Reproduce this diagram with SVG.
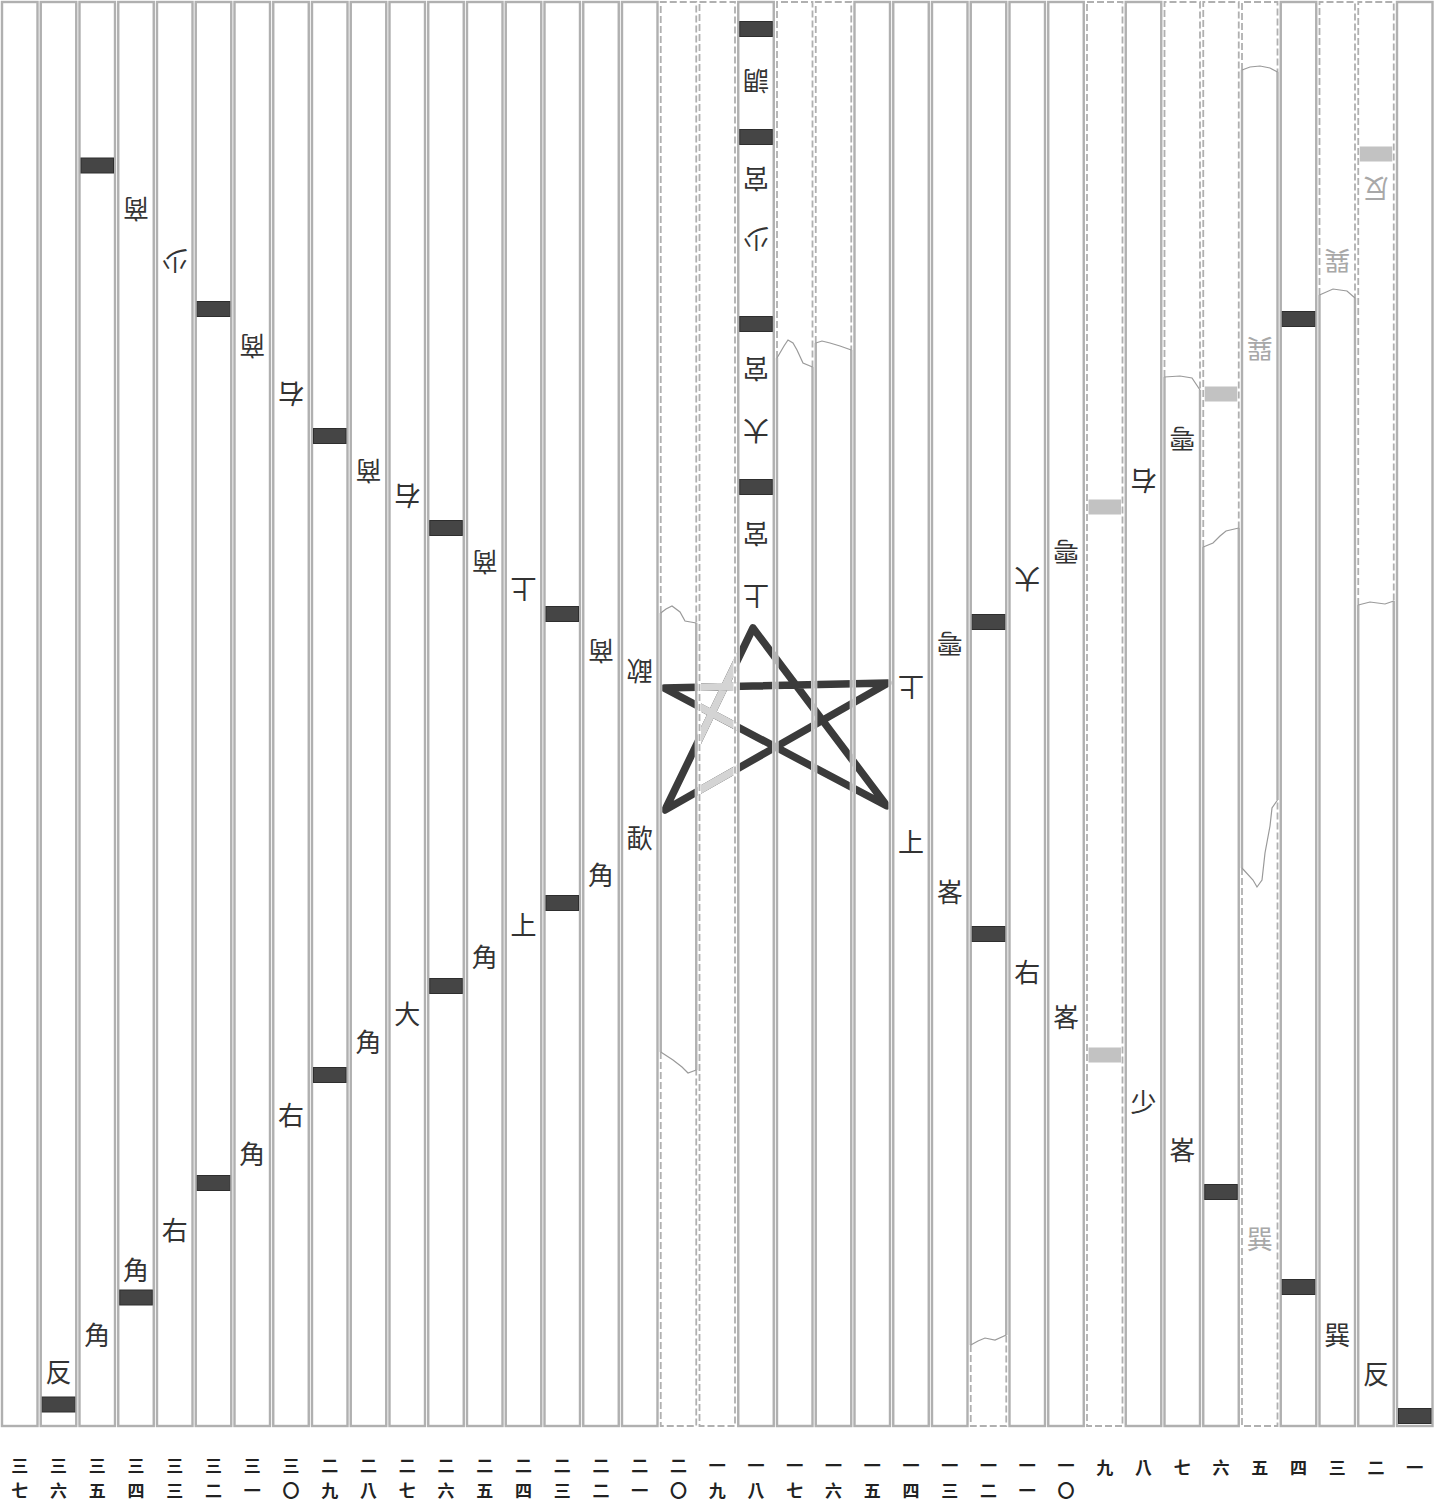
<svg xmlns="http://www.w3.org/2000/svg" width="1435" height="1500" viewBox="0 0 1435 1500">
<defs>
<style>
.u{fill:none;stroke:#fff;stroke-width:3}
.s{fill:none;stroke:#b0b0b0;stroke-width:2.4}
.d{fill:none;stroke:#b0b0b0;stroke-width:1.8;stroke-dasharray:7 3}
.k{fill:none;stroke:#9a9a9a;stroke-width:1.2}
.b{fill:#454545;stroke:#2e2e2e;stroke-width:1}
.gb{fill:#c2c2c2}
.t{font-family:"Noto Sans CJK TC","Noto Sans CJK SC",sans-serif;font-size:26px;fill:#333;text-anchor:middle;dominant-baseline:central}
.g{fill:#a8a8a8}
.l{font-family:"Noto Sans CJK TC","Noto Sans CJK SC",sans-serif;font-size:17px;font-weight:bold;fill:#222;text-anchor:middle;dominant-baseline:central}
.st{fill:none;stroke:#3b3b3b;stroke-width:7.5;stroke-linejoin:round;stroke-linecap:round}
.sg{fill:none;stroke:#d4d4d4;stroke-width:7.5;stroke-linejoin:round}
</style>
<clipPath id="c18"><rect x="699" y="500" width="38" height="400"/></clipPath>
</defs>
<rect width="1435" height="1500" fill="#fff"/>
<g id="connectors">
<path class="st" d="M664,688 L888,683 L665,810 L753,628 L887,806 Z"/>
<path class="sg" clip-path="url(#c18)" d="M664,688 L888,683 L665,810 L753,628 L887,806 Z"/>
</g>
<g id="s37"><rect class="u" x="2" y="2" width="35.5" height="1424"/><rect class="s" x="2" y="2" width="35.5" height="1424"/><text class="l" x="19.75" y="1464">三</text><text class="l" x="19.75" y="1489">七</text></g>
<g id="s36"><rect class="u" x="40.75" y="2" width="35.5" height="1424"/><rect class="s" x="40.75" y="2" width="35.5" height="1424"/><text class="t" x="58.5" y="1370">反</text><rect class="b" x="42.25" y="1397" width="32.5" height="15"/><text class="l" x="58.5" y="1464">三</text><text class="l" x="58.5" y="1489">六</text></g>
<g id="s35"><rect class="u" x="79.5" y="2" width="35.5" height="1424"/><rect class="s" x="79.5" y="2" width="35.5" height="1424"/><rect class="b" x="81" y="158" width="32.5" height="15"/><text class="t" x="97.25" y="1333">角</text><text class="l" x="97.25" y="1464">三</text><text class="l" x="97.25" y="1489">五</text></g>
<g id="s34"><rect class="u" x="118.25" y="2" width="35.5" height="1424"/><rect class="s" x="118.25" y="2" width="35.5" height="1424"/><text class="t" x="136" y="210" transform="rotate(180 136 210)">商</text><text class="t" x="136" y="1268">角</text><rect class="b" x="119.75" y="1290" width="32.5" height="15"/><text class="l" x="136" y="1464">三</text><text class="l" x="136" y="1489">四</text></g>
<g id="s33"><rect class="u" x="157" y="2" width="35.5" height="1424"/><rect class="s" x="157" y="2" width="35.5" height="1424"/><text class="t" x="174.75" y="262" transform="rotate(180 174.75 262)">少</text><text class="t" x="174.75" y="1228">右</text><text class="l" x="174.75" y="1464">三</text><text class="l" x="174.75" y="1489">三</text></g>
<g id="s32"><rect class="u" x="195.75" y="2" width="35.5" height="1424"/><rect class="s" x="195.75" y="2" width="35.5" height="1424"/><rect class="b" x="197.25" y="301.5" width="32.5" height="15"/><rect class="b" x="197.25" y="1175.5" width="32.5" height="15"/><text class="l" x="213.5" y="1464">三</text><text class="l" x="213.5" y="1489">二</text></g>
<g id="s31"><rect class="u" x="234.5" y="2" width="35.5" height="1424"/><rect class="s" x="234.5" y="2" width="35.5" height="1424"/><text class="t" x="252.25" y="347" transform="rotate(180 252.25 347)">商</text><text class="t" x="252.25" y="1152">角</text><text class="l" x="252.25" y="1464">三</text><text class="l" x="252.25" y="1489">一</text></g>
<g id="s30"><rect class="u" x="273.25" y="2" width="35.5" height="1424"/><rect class="s" x="273.25" y="2" width="35.5" height="1424"/><text class="t" x="291" y="395" transform="rotate(180 291 395)">右</text><text class="t" x="291" y="1113">右</text><text class="l" x="291" y="1464">三</text><text class="l" x="291" y="1489">〇</text></g>
<g id="s29"><rect class="u" x="312" y="2" width="35.5" height="1424"/><rect class="s" x="312" y="2" width="35.5" height="1424"/><rect class="b" x="313.5" y="428.5" width="32.5" height="15"/><rect class="b" x="313.5" y="1067.5" width="32.5" height="15"/><text class="l" x="329.75" y="1464">二</text><text class="l" x="329.75" y="1489">九</text></g>
<g id="s28"><rect class="u" x="350.75" y="2" width="35.5" height="1424"/><rect class="s" x="350.75" y="2" width="35.5" height="1424"/><text class="t" x="368.5" y="472" transform="rotate(180 368.5 472)">商</text><text class="t" x="368.5" y="1040">角</text><text class="l" x="368.5" y="1464">二</text><text class="l" x="368.5" y="1489">八</text></g>
<g id="s27"><rect class="u" x="389.5" y="2" width="35.5" height="1424"/><rect class="s" x="389.5" y="2" width="35.5" height="1424"/><text class="t" x="407.25" y="497" transform="rotate(180 407.25 497)">右</text><text class="t" x="407.25" y="1012">大</text><text class="l" x="407.25" y="1464">二</text><text class="l" x="407.25" y="1489">七</text></g>
<g id="s26"><rect class="u" x="428.25" y="2" width="35.5" height="1424"/><rect class="s" x="428.25" y="2" width="35.5" height="1424"/><rect class="b" x="429.75" y="520.5" width="32.5" height="15"/><rect class="b" x="429.75" y="978.5" width="32.5" height="15"/><text class="l" x="446" y="1464">二</text><text class="l" x="446" y="1489">六</text></g>
<g id="s25"><rect class="u" x="467" y="2" width="35.5" height="1424"/><rect class="s" x="467" y="2" width="35.5" height="1424"/><text class="t" x="484.75" y="563" transform="rotate(180 484.75 563)">商</text><text class="t" x="484.75" y="955">角</text><text class="l" x="484.75" y="1464">二</text><text class="l" x="484.75" y="1489">五</text></g>
<g id="s24"><rect class="u" x="505.75" y="2" width="35.5" height="1424"/><rect class="s" x="505.75" y="2" width="35.5" height="1424"/><text class="t" x="523.5" y="590" transform="rotate(180 523.5 590)">上</text><text class="t" x="523.5" y="923">上</text><text class="l" x="523.5" y="1464">二</text><text class="l" x="523.5" y="1489">四</text></g>
<g id="s23"><rect class="u" x="544.5" y="2" width="35.5" height="1424"/><rect class="s" x="544.5" y="2" width="35.5" height="1424"/><rect class="b" x="546" y="606.5" width="32.5" height="15"/><rect class="b" x="546" y="895.5" width="32.5" height="15"/><text class="l" x="562.25" y="1464">二</text><text class="l" x="562.25" y="1489">三</text></g>
<g id="s22"><rect class="u" x="583.25" y="2" width="35.5" height="1424"/><rect class="s" x="583.25" y="2" width="35.5" height="1424"/><text class="t" x="601" y="652" transform="rotate(180 601 652)">商</text><text class="t" x="601" y="873">角</text><text class="l" x="601" y="1464">二</text><text class="l" x="601" y="1489">二</text></g>
<g id="s21"><rect class="u" x="622" y="2" width="35.5" height="1424"/><rect class="s" x="622" y="2" width="35.5" height="1424"/><text class="t" x="639.75" y="672" transform="rotate(180 639.75 672)">歃</text><text class="t" x="639.75" y="836">歃</text><text class="l" x="639.75" y="1464">二</text><text class="l" x="639.75" y="1489">一</text></g>
<g id="s20"><path class="u" d="M660.75,2V1426H696.25V2Z"/><path class="d" d="M660.75,613V2H696.25V623M660.75,1052V1426H696.25V1070"/><path class="s" d="M660.75,613V1052M696.25,623V1070"/><path class="k" d="M660.75,613L666,609L672,606L680,612L685,621L696.25,623M660.75,1052L673,1060L682,1067L688,1073L696.25,1070"/><text class="l" x="678.5" y="1464">二</text><text class="l" x="678.5" y="1489">〇</text></g>
<g id="s19"><rect class="u" x="699.5" y="2" width="35.5" height="1424"/><rect class="d" x="699.5" y="2" width="35.5" height="1424"/><text class="l" x="717.25" y="1464">一</text><text class="l" x="717.25" y="1489">九</text></g>
<g id="s18"><rect class="u" x="738.25" y="2" width="35.5" height="1424"/><rect class="s" x="738.25" y="2" width="35.5" height="1424"/><rect class="b" x="739.75" y="21.5" width="32.5" height="15"/><text class="t" x="756" y="82" transform="rotate(180 756 82)">調</text><rect class="b" x="739.75" y="129.5" width="32.5" height="15"/><text class="t" x="756" y="180" transform="rotate(180 756 180)">宮</text><text class="t" x="756" y="240" transform="rotate(180 756 240)">少</text><rect class="b" x="739.75" y="316.5" width="32.5" height="15"/><text class="t" x="756" y="370" transform="rotate(180 756 370)">宮</text><text class="t" x="756" y="432" transform="rotate(180 756 432)">大</text><rect class="b" x="739.75" y="479.5" width="32.5" height="15"/><text class="t" x="756" y="535" transform="rotate(180 756 535)">宮</text><text class="t" x="756" y="597" transform="rotate(180 756 597)">上</text><text class="l" x="756" y="1464">一</text><text class="l" x="756" y="1489">八</text></g>
<g id="s17"><path class="u" d="M777,2V1426H812.5V2Z"/><path class="d" d="M777,358V2H812.5V367"/><path class="s" d="M777,358V1426H812.5V367"/><path class="k" d="M777,358L784,346L788,340L793,343L797,350L803,363L812.5,367"/><text class="l" x="794.75" y="1464">一</text><text class="l" x="794.75" y="1489">七</text></g>
<g id="s16"><path class="u" d="M815.75,2V1426H851.25V2Z"/><path class="d" d="M815.75,343V2H851.25V350"/><path class="s" d="M815.75,343V1426H851.25V350"/><path class="k" d="M815.75,343L822,341L830,343L840,346L851.25,350"/><text class="l" x="833.5" y="1464">一</text><text class="l" x="833.5" y="1489">六</text></g>
<g id="s15"><rect class="u" x="854.5" y="2" width="35.5" height="1424"/><rect class="s" x="854.5" y="2" width="35.5" height="1424"/><text class="l" x="872.25" y="1464">一</text><text class="l" x="872.25" y="1489">五</text></g>
<g id="s14"><rect class="u" x="893.25" y="2" width="35.5" height="1424"/><rect class="s" x="893.25" y="2" width="35.5" height="1424"/><text class="t" x="911" y="688" transform="rotate(180 911 688)">上</text><text class="t" x="911" y="840">上</text><text class="l" x="911" y="1464">一</text><text class="l" x="911" y="1489">四</text></g>
<g id="s13"><rect class="u" x="932" y="2" width="35.5" height="1424"/><rect class="s" x="932" y="2" width="35.5" height="1424"/><text class="t" x="949.75" y="645" transform="rotate(180 949.75 645)">雩</text><text class="t" x="949.75" y="890">峉</text><text class="l" x="949.75" y="1464">一</text><text class="l" x="949.75" y="1489">三</text></g>
<g id="s12"><path class="u" d="M970.75,2V1426H1006.25V2Z"/><path class="s" d="M970.75,1345V2H1006.25V1335"/><path class="d" d="M970.75,1345V1426H1006.25V1335"/><path class="k" d="M970.75,1345L978,1341L985,1338L995,1340L1006.25,1335"/><rect class="b" x="972.25" y="614.5" width="32.5" height="15"/><rect class="b" x="972.25" y="926.5" width="32.5" height="15"/><text class="l" x="988.5" y="1464">一</text><text class="l" x="988.5" y="1489">二</text></g>
<g id="s11"><rect class="u" x="1009.5" y="2" width="35.5" height="1424"/><rect class="s" x="1009.5" y="2" width="35.5" height="1424"/><text class="t" x="1027.25" y="580" transform="rotate(180 1027.25 580)">大</text><text class="t" x="1027.25" y="970">右</text><text class="l" x="1027.25" y="1464">一</text><text class="l" x="1027.25" y="1489">一</text></g>
<g id="s10"><rect class="u" x="1048.25" y="2" width="35.5" height="1424"/><rect class="s" x="1048.25" y="2" width="35.5" height="1424"/><text class="t" x="1066" y="553" transform="rotate(180 1066 553)">雩</text><text class="t" x="1066" y="1015">峉</text><text class="l" x="1066" y="1464">一</text><text class="l" x="1066" y="1489">〇</text></g>
<g id="s9"><rect class="u" x="1087" y="2" width="35.5" height="1424"/><rect class="d" x="1087" y="2" width="35.5" height="1424"/><rect class="gb" x="1088.5" y="499.5" width="32.5" height="15"/><rect class="gb" x="1088.5" y="1047.5" width="32.5" height="15"/><text class="l" x="1104.75" y="1466">九</text></g>
<g id="s8"><rect class="u" x="1125.75" y="2" width="35.5" height="1424"/><rect class="s" x="1125.75" y="2" width="35.5" height="1424"/><text class="t" x="1143.5" y="482" transform="rotate(180 1143.5 482)">右</text><text class="t" x="1143.5" y="1100">少</text><text class="l" x="1143.5" y="1466">八</text></g>
<g id="s7"><path class="u" d="M1164.5,2V1426H1200V2Z"/><path class="d" d="M1164.5,377V2H1200V390"/><path class="s" d="M1164.5,377V1426H1200V390"/><path class="k" d="M1164.5,377L1180,376L1192,378L1200,390"/><text class="t" x="1182.25" y="440" transform="rotate(180 1182.25 440)">雩</text><text class="t" x="1182.25" y="1148">峉</text><text class="l" x="1182.25" y="1466">七</text></g>
<g id="s6"><path class="u" d="M1203.25,2V1426H1238.75V2Z"/><path class="d" d="M1203.25,547V2H1238.75V528"/><path class="s" d="M1203.25,547V1426H1238.75V528"/><path class="k" d="M1203.25,547L1213,543L1220,536L1226,531L1238.75,528"/><rect class="gb" x="1204.75" y="386.5" width="32.5" height="15"/><rect class="b" x="1204.75" y="1184.5" width="32.5" height="15"/><text class="l" x="1221" y="1466">六</text></g>
<g id="s5"><path class="u" d="M1242,2V1426H1277.5V2Z"/><path class="d" d="M1242,70V2H1277.5V72M1242,868V1426H1277.5V800"/><path class="s" d="M1242,70V868M1277.5,72V800"/><path class="k" d="M1242,70L1250,67L1260,66L1270,68L1277.5,72M1277.5,800L1272,808L1270,826L1265,853L1262,880L1257,887L1253,880L1242,868"/><text class="t g" x="1259.75" y="350" transform="rotate(180 1259.75 350)">巽</text><text class="t g" x="1259.75" y="1237">巽</text><text class="l" x="1259.75" y="1466">五</text></g>
<g id="s4"><rect class="u" x="1280.75" y="2" width="35.5" height="1424"/><rect class="s" x="1280.75" y="2" width="35.5" height="1424"/><rect class="b" x="1282.25" y="311.5" width="32.5" height="15"/><rect class="b" x="1282.25" y="1279.5" width="32.5" height="15"/><text class="l" x="1298.5" y="1466">四</text></g>
<g id="s3"><path class="u" d="M1319.5,2V1426H1355V2Z"/><path class="d" d="M1319.5,295V2H1355V298"/><path class="s" d="M1319.5,295V1426H1355V298"/><path class="k" d="M1319.5,295L1333,289L1347,291L1355,298"/><text class="t g" x="1337.25" y="262" transform="rotate(180 1337.25 262)">巽</text><text class="t" x="1337.25" y="1333">巽</text><text class="l" x="1337.25" y="1466">三</text></g>
<g id="s2"><path class="u" d="M1358.25,2V1426H1393.75V2Z"/><path class="d" d="M1358.25,605V2H1393.75V601"/><path class="s" d="M1358.25,605V1426H1393.75V601"/><path class="k" d="M1358.25,605L1370,602L1385,604L1393.75,601"/><rect class="gb" x="1359.75" y="146.5" width="32.5" height="15"/><text class="t g" x="1376" y="190" transform="rotate(180 1376 190)">反</text><text class="t" x="1376" y="1372">反</text><text class="l" x="1376" y="1466">二</text></g>
<g id="s1"><rect class="u" x="1397" y="2" width="35.5" height="1424"/><rect class="s" x="1397" y="2" width="35.5" height="1424"/><rect class="b" x="1398.5" y="1408.5" width="32.5" height="15"/><text class="l" x="1414.75" y="1466">一</text></g>
</svg>
